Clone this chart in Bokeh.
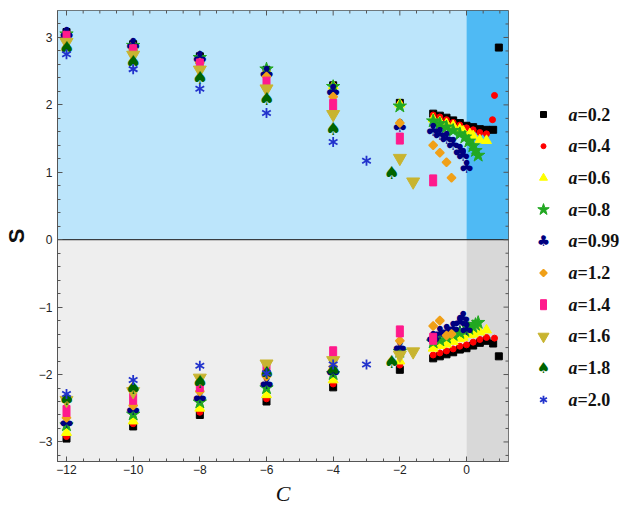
import math
from bokeh.plotting import figure
from bokeh.models import Range1d, FixedTicker, BoxAnnotation, Span
from bokeh.layouts import row
from bokeh.core.properties import value
from bokeh.embed import file_html
from bokeh.resources import INLINE

nan = float("nan")

# ---------------- data ----------------
a_labels = ["0.2", "0.4", "0.6", "0.8", "0.99", "1.2", "1.4", "1.6", "1.8", "2.0"]

C_a02 = [-12, -10, -8, -6, -4, -2, -1, -0.8, -0.6, -0.4, -0.2, 0, 0.2, 0.4, 0.6, 0.8, 0.97]
Sup_a02 = [3.08, 2.90, 2.72, 2.52, 2.29, 2.03, 1.87, 1.84, 1.81, 1.77, 1.73, 1.69, 1.67, 1.64, 1.63, 1.63, 2.85]
Sdn_a02 = [-2.95, -2.77, -2.60, -2.40, -2.19, -1.93, -1.76, -1.73, -1.70, -1.67, -1.63, -1.61, -1.57, -1.53, -1.50, -1.54, -1.73]

C_a04 = [-12, -10, -8, -6, -4, -2, -1, -0.8, -0.6, -0.4, -0.2, 0, 0.2, 0.4, 0.6, 0.78, 0.84]
Sup_a04 = [3.07, 2.89, 2.71, 2.51, 2.28, 2.02, 1.85, 1.82, 1.78, 1.74, 1.70, 1.66, 1.63, 1.59, 1.57, 1.78, 2.14]
Sdn_a04 = [-2.92, -2.73, -2.56, -2.36, -2.14, -1.86, -1.71, -1.68, -1.65, -1.62, -1.58, -1.56, -1.52, -1.48, -1.45, nan, -1.46]

C_a06 = [-12, -10, -8, -6, -4, -2, -1, -0.8, -0.6, -0.4, -0.2, -0.1, 0.1, 0.2, 0.4, 0.6]
Sup_a06 = [3.06, 2.89, 2.71, 2.51, 2.28, 2.01, 1.79, 1.75, 1.72, 1.69, 1.64, 1.61, 1.57, 1.54, 1.48, 1.47]
Sdn_a06 = [-2.86, -2.69, -2.50, -2.30, -2.08, -1.80, -1.61, -1.57, -1.55, -1.51, -1.47, -1.45, -1.41, -1.40, -1.37, -1.34]

C_a08 = [-12, -10, -8, -6, -4, -2, -1, -0.8, -0.6, -0.4, -0.2, -0.05, 0.07, 0.19, 0.27, 0.35]
Sup_a08 = [3.05, 2.88, 2.70, 2.53, 2.27, 1.98, 1.76, 1.72, 1.67, 1.62, 1.57, 1.52, 1.46, 1.39, 1.32, 1.25]
Sdn_a08 = [-2.75, -2.59, -2.41, -2.20, -1.99, -1.66, -1.52, -1.49, -1.45, -1.41, -1.38, -1.35, -1.32, -1.29, -1.26, -1.23]

C_a099 = [-12, -10, -8, -6, -4, -2, -1, -0.8, -0.6, -0.4, -0.2, -0.1, 0]
Sup_a099 = [3.06, 2.89, 2.70, 2.48, 2.21, 1.69, 1.64, 1.58, 1.52, 1.43, 1.32, 1.26, 1.08]
Sdn_a099 = [-2.69, -2.51, -2.33, -2.12, -1.94, -1.59, -1.45, -1.38, -1.34, -1.30, -1.21, -1.15, -1.32]

C_a12 = [-12, -10, -8, -6, -4, -2, -1, -0.8, -0.6, -0.45]
Sup_a12 = [2.98, 2.83, 2.63, 2.42, 2.12, 1.73, 1.40, 1.29, 1.15, 0.92]
Sdn_a12 = [-2.64, -2.46, -2.25, -2.03, -1.88, -1.50, -1.28, -1.20, -1.42, -1.40]

C_a14 = [-12, -10, -8, -6, -4, -2, -1]
Sup_a14 = [3.01, 2.81, 2.60, 2.33, 2.00, 1.50, 0.88]
Sdn_a14 = [-2.54, -2.36, -2.17, -1.93, -1.67, -1.36, -1.47]

C_a16 = [-12, -10, -8, -6, -4, -2, -1.6]
Sup_a16 = [2.93, 2.74, 2.52, 2.24, 1.86, 1.21, 0.86]
Sdn_a16 = [-2.38, -2.25, -2.05, -1.84, -1.79, -1.71, -1.66]

C_a18 = [-12, -10, -8, -6, -4, -2.25]
Sup_a18 = [2.85, 2.64, 2.40, 2.09, 1.65, 1.00]
Sdn_a18 = [-2.35, -2.19, -2.10, -1.97, -1.92, -1.80]

C_a20 = [-12, -10, -8, -6, -4, -3]
Sup_a20 = [2.75, 2.53, 2.24, 1.88, 1.45, 1.17]
Sdn_a20 = [-2.29, -2.08, -1.87, -1.98, -1.85, -1.85]

x_ticks = [-12, -10, -8, -6, -4, -2, 0]
y_ticks = [-3, -2, -1, 0, 1, 2, 3]

series = [
    (C_a02, Sup_a02, Sdn_a02),
    (C_a04, Sup_a04, Sdn_a04),
    (C_a06, Sup_a06, Sdn_a06),
    (C_a08, Sup_a08, Sdn_a08),
    (C_a099, Sup_a099, Sdn_a099),
    (C_a12, Sup_a12, Sdn_a12),
    (C_a14, Sup_a14, Sdn_a14),
    (C_a16, Sup_a16, Sdn_a16),
    (C_a18, Sup_a18, Sdn_a18),
    (C_a20, Sup_a20, Sdn_a20),
]

# styles: (kind, color, plot size, legend size)
styles = [
    ("square", "#000000", 7, 6),
    ("circle", "#ff0000", 6, 5),
    ("triangle", "#ffff00", 10, 8),
    ("star", "#22a822", 14, 12),
    ("club", "#000080", 18, 15),
    ("diamond", "#f0a018", 6, 5),
    ("rect", "#ff1a8c", (7, 11), (6, 10)),
    ("inverted_triangle", "#c8b430", 13, 11),
    ("spade", "#006400", 18, 15),
    ("asterisk", "#2233cc", 10, 8),
]


def draw(fig, kind, xs, ys, color, size):
    if kind in ("club", "spade"):
        ch = "\u2663" if kind == "club" else "\u2660"
        fig.text(x=xs, y=ys, text=[ch] * len(xs), text_color=color,
                 text_font=value("DejaVu Sans"), text_font_size=f"{size}px",
                 text_align="center", text_baseline="middle")
    elif kind == "rect":
        fig.rect(x=xs, y=ys, width=size[0], height=size[1],
                 width_units="screen", height_units="screen",
                 fill_color=color, line_color=color)
    elif kind == "diamond":
        fig.scatter(x=xs, y=ys, marker="square", angle=math.pi / 4, size=size,
                    fill_color=color, line_color=color, line_width=1.5)
    elif kind == "asterisk":
        for ang in (math.pi / 2, math.pi / 6, -math.pi / 6):
            fig.scatter(x=xs, y=ys, marker="dash", angle=ang, size=size,
                        line_color=color, line_width=1.8)
    else:
        fig.scatter(x=xs, y=ys, marker=kind, size=size,
                    fill_color=color, line_color=color)


# ---------------- main plot ----------------
X0, X1 = -12.27, 1.26
Y0, Y1 = -3.29, 3.40
FT, FB = 10, 47

p = figure(width=512, height=508, output_backend="svg", toolbar_location=None,
           x_range=Range1d(X0, X1), y_range=Range1d(Y0, Y1),
           min_border_left=57, min_border_right=4, min_border_top=FT,
           min_border_bottom=FB)
p.xgrid.visible = False
p.ygrid.visible = False
p.background_fill_color = "white"
p.border_fill_color = "white"
p.outline_line_color = "#555555"

# backgrounds
p.add_layout(BoxAnnotation(bottom=0, right=0, fill_color="#bce5fb", fill_alpha=1,
                           line_alpha=0, level="underlay"))
p.add_layout(BoxAnnotation(bottom=0, left=0, fill_color="#4fbaf4", fill_alpha=1,
                           line_alpha=0, level="underlay"))
p.add_layout(BoxAnnotation(top=0, right=0, fill_color="#eeeeee", fill_alpha=1,
                           line_alpha=0, level="underlay"))
p.add_layout(BoxAnnotation(top=0, left=0, fill_color="#d8d8d8", fill_alpha=1,
                           line_alpha=0, level="underlay"))
p.add_layout(Span(location=0, dimension="width", line_color="#111111",
                  line_width=1, level="underlay"))

xminor = [-12 + 0.5 * i for i in range(27) if (-12 + 0.5 * i) not in x_ticks]
yminor = [round(-3.2 + 0.2 * i, 2) for i in range(33)]
yminor = [v for v in yminor if round(v, 6) not in [float(t) for t in y_ticks]]
xt = FixedTicker(ticks=x_ticks, minor_ticks=xminor)
yt = FixedTicker(ticks=y_ticks, minor_ticks=yminor)

tick_col = "#555555"
for ax in (p.xaxis[0], p.yaxis[0]):
    ax.axis_line_color = tick_col
    ax.major_tick_line_color = tick_col
    ax.minor_tick_line_color = tick_col
    ax.major_tick_in = 5
    ax.major_tick_out = 0
    ax.minor_tick_in = 3
    ax.minor_tick_out = 0
    ax.major_label_text_font = "Liberation Sans"
    ax.major_label_text_font_size = "12px"
    ax.major_label_text_color = "#222222"

p.xaxis.ticker = xt
p.yaxis.ticker = yt
p.xaxis.major_label_overrides = {t: (f"\u2212{abs(t)}" if t < 0 else str(t)) for t in x_ticks}
p.yaxis.major_label_overrides = {t: (f"\u2212{abs(t)}" if t < 0 else str(t)) for t in y_ticks}
p.xaxis.major_label_standoff = 3
p.yaxis.major_label_standoff = 5

p.xaxis.axis_label = "C"
p.xaxis.axis_label_text_font = "Liberation Serif"
p.xaxis.axis_label_text_font_style = "italic"
p.xaxis.axis_label_text_font_size = "22px"
p.xaxis.axis_label_text_color = "#111111"
p.xaxis.axis_label_standoff = 4

p.yaxis.axis_label = "S"
p.yaxis.axis_label_text_font = "Liberation Sans"
p.yaxis.axis_label_text_font_style = "bold"
p.yaxis.axis_label_text_font_size = "22px"
p.yaxis.axis_label_text_color = "#111111"
p.yaxis.axis_label_standoff = 7

# mirrored inward ticks on the top and right edges (dash markers clipped by the frame)
p.scatter(x=x_ticks, y=[Y1] * len(x_ticks), marker="dash", angle=math.pi / 2,
          size=10, line_color=tick_col, line_width=1)
p.scatter(x=xminor, y=[Y1] * len(xminor), marker="dash", angle=math.pi / 2,
          size=6, line_color=tick_col, line_width=1)
p.scatter(x=[X1] * len(y_ticks), y=y_ticks, marker="dash", size=10,
          line_color=tick_col, line_width=1)
p.scatter(x=[X1] * len(yminor), y=yminor, marker="dash", size=6,
          line_color=tick_col, line_width=1)

for (C, Sup, Sdn), (kind, color, size, _) in zip(series, styles):
    xs, ys = [], []
    for c, s in zip(C + C, Sup + Sdn):
        if not math.isnan(s):
            xs.append(c)
            ys.append(s)
    draw(p, kind, xs, ys, color, size)

# ---------------- legend panel ----------------
n = len(a_labels)
row_h = 31.7
first = 114.0
H = 508
top_i = (FT - first) / row_h
bot_i = (H - FB - first) / row_h
lg = figure(width=123, height=508, output_backend="svg", toolbar_location=None,
            x_range=Range1d(0, 123), y_range=Range1d(bot_i, top_i),
            min_border_left=0, min_border_right=0,
            min_border_top=FT, min_border_bottom=FB)
lg.axis.visible = False
lg.xgrid.visible = False
lg.ygrid.visible = False
lg.outline_line_color = None
lg.background_fill_color = "white"
lg.border_fill_color = "white"

for i, (kind, color, _, lsize) in enumerate(styles):
    draw(lg, kind, [31], [i], color, lsize)

idx = list(range(n))
lg.text(x=[56] * n, y=idx, text=["a"] * n, text_font=value("Liberation Serif"),
        text_font_style="bold italic", text_font_size="18px", text_color="#111111",
        text_align="left", text_baseline="middle")
lg.text(x=[56] * n, y=idx, x_offset=9, text=["=" + s for s in a_labels],
        text_font=value("Liberation Serif"), text_font_style="bold",
        text_font_size="18px", text_color="#111111",
        text_align="left", text_baseline="middle")

layout = row(p, lg)
open("out.html", "w").write(file_html(layout, INLINE))
